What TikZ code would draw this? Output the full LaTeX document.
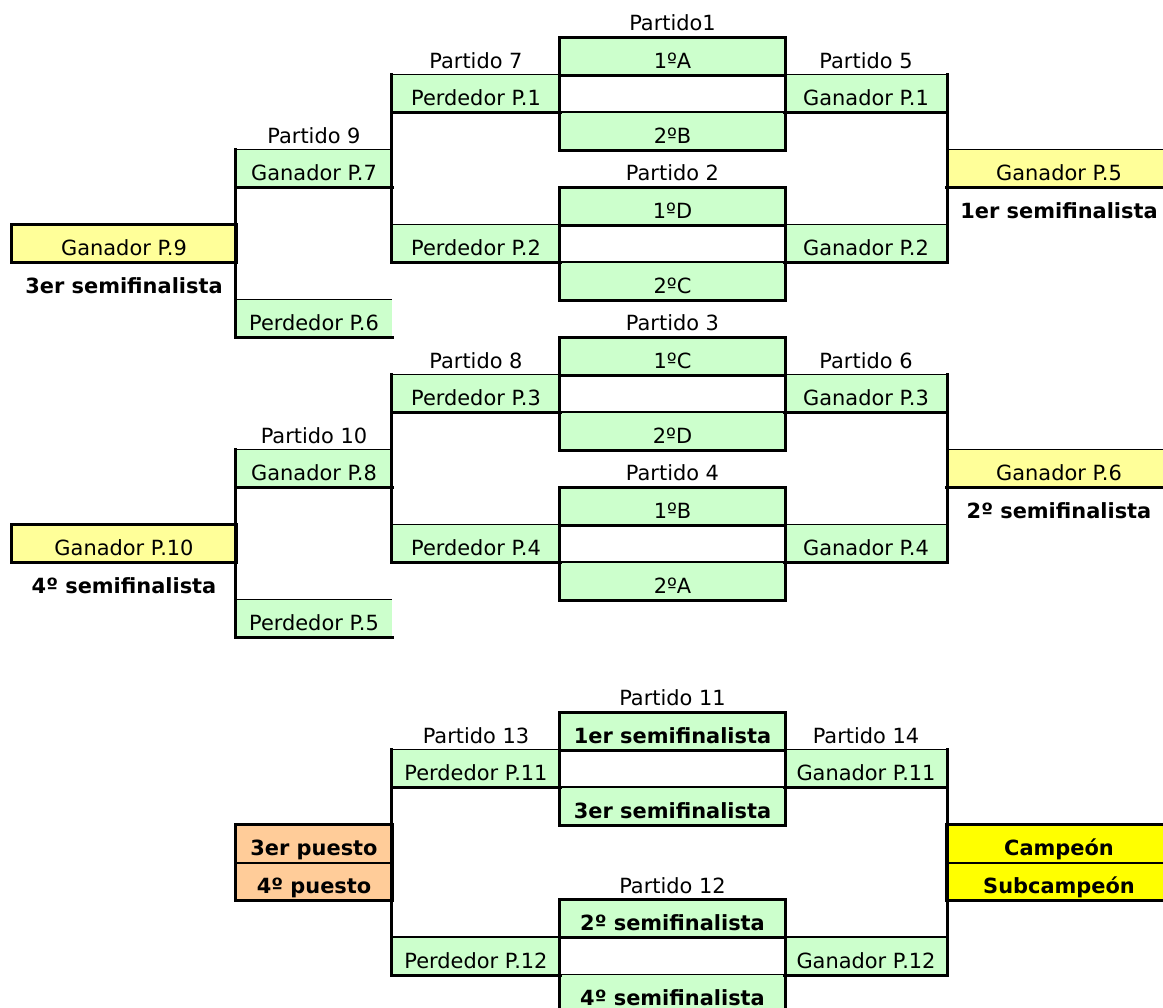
\documentclass[tikz,border=0pt]{standalone}
\usepackage{fontspec}
\setmainfont{DejaVu Sans}
\usetikzlibrary{positioning}
\definecolor{verde}{HTML}{CCFFCC}
\definecolor{amarillo}{HTML}{FFFF99}
\definecolor{oro}{HTML}{FFFF00}
\definecolor{naranja}{HTML}{FFCC99}

\begin{document}
\begin{tikzpicture}[
    every node/.style={font=\fontsize{11.9}{14}\selectfont},
    cell/.style={inner sep=0pt,minimum height=0.75cm,
                 text height=0.61cm,text depth=0.14cm},
    col A/.style={cell,minimum width=4.48cm},
    col B/.style={cell,minimum width=3.12cm},
    col C/.style={cell,minimum width=3.36cm},
    col D/.style={cell,minimum width=4.5cm},
    col E/.style={cell,minimum width=3.24cm},
    col F/.style={cell,minimum width=4.48cm},
    verde cell/.style={fill=verde},
    amarillo cell/.style={fill=amarillo},
    bold text/.style={font=\fontsize{11.9}{14}\selectfont\bfseries},
    thin line/.style={line width=0.85pt},
    thick line/.style={line width=1.7pt,line cap=rect}
   ]
   \useasboundingbox (0,0) rectangle (23.26,-20.14);

   % cuadro principal
   \node[col D] (lp1) at (13.45,-0.375) {Partido1};
   \node[col C] (lp7) at (9.52,-1.125) {Partido 7};
   \node[col E] (lp5) at (17.32,-1.125) {Partido 5};
   \node[col B] (lp9) at (6.28,-2.625) {Partido 9};
   \node[col D] (lp2) at (13.45,-3.375) {Partido 2};
   \node[col D] (lp3) at (13.45,-6.375) {Partido 3};
   \node[col C] (lp8) at (9.52,-7.125) {Partido 8};
   \node[col E] (lp6) at (17.32,-7.125) {Partido 6};
   \node[col B] (lp10) at (6.28,-8.625) {Partido 10};
   \node[col D] (lp4) at (13.45,-9.375) {Partido 4};

   \node[col D,verde cell] (p1a) at (13.45,-1.125) {1ºA};
   \node[col D,verde cell] (p1b) at (13.45,-2.625) {2ºB};
   \node[col D,verde cell] (p2a) at (13.45,-4.125) {1ºD};
   \node[col D,verde cell] (p2b) at (13.45,-5.625) {2ºC};
   \node[col D,verde cell] (p3a) at (13.45,-7.125) {1ºC};
   \node[col D,verde cell] (p3b) at (13.45,-8.625) {2ºD};
   \node[col D,verde cell] (p4a) at (13.45,-10.125) {1ºB};
   \node[col D,verde cell] (p4b) at (13.45,-11.625) {2ºA};

   \node[col C,verde cell] (per1) at (9.52,-1.875) {Perdedor P.1};
   \node[col C,verde cell] (per2) at (9.52,-4.875) {Perdedor P.2};
   \node[col C,verde cell] (per3) at (9.52,-7.875) {Perdedor P.3};
   \node[col C,verde cell] (per4) at (9.52,-10.875) {Perdedor P.4};
   \node[col E,verde cell] (gan1) at (17.32,-1.875) {Ganador P.1};
   \node[col E,verde cell] (gan2) at (17.32,-4.875) {Ganador P.2};
   \node[col E,verde cell] (gan3) at (17.32,-7.875) {Ganador P.3};
   \node[col E,verde cell] (gan4) at (17.32,-10.875) {Ganador P.4};

   \node[col B,verde cell] (gan7) at (6.28,-3.375) {Ganador P.7};
   \node[col B,verde cell] (per6) at (6.28,-6.375) {Perdedor P.6};
   \node[col B,verde cell] (gan8) at (6.28,-9.375) {Ganador P.8};
   \node[col B,verde cell] (per5) at (6.28,-12.375) {Perdedor P.5};

   \node[col A,amarillo cell] (gan9) at (2.48,-4.875) {Ganador P.9};
   \node[col A,bold text] (semi3) at (2.48,-5.625) {3er semifinalista};
   \node[col A,amarillo cell] (gan10) at (2.48,-10.875) {Ganador P.10};
   \node[col A,bold text] (semi4) at (2.48,-11.625) {4º semifinalista};
   \node[col F,amarillo cell] (gan5) at (21.18,-3.375) {Ganador P.5};
   \node[col F,bold text] (semi1) at (21.18,-4.125) {1er semifinalista};
   \node[col F,amarillo cell] (gan6) at (21.18,-9.375) {Ganador P.6};
   \node[col F,bold text] (semi2) at (21.18,-10.125) {2º semifinalista};

   % fase final
   \node[col D] (lp11) at (13.45,-13.875) {Partido 11};
   \node[col C] (lp13) at (9.52,-14.625) {Partido 13};
   \node[col E] (lp14) at (17.32,-14.625) {Partido 14};
   \node[col D] (lp12) at (13.45,-17.625) {Partido 12};

   \node[col D,verde cell,bold text] (p11a) at (13.45,-14.625) {1er semifinalista};
   \node[col D,verde cell,bold text] (p11b) at (13.45,-16.125) {3er semifinalista};
   \node[col D,verde cell,bold text] (p12a) at (13.45,-18.375) {2º semifinalista};
   \node[col D,verde cell,bold text] (p12b) at (13.45,-19.875) {4º semifinalista};
   \node[col C,verde cell] (per11) at (9.52,-15.375) {Perdedor P.11};
   \node[col C,verde cell] (per12) at (9.52,-19.125) {Perdedor P.12};
   \node[col E,verde cell] (gan11) at (17.32,-15.375) {Ganador P.11};
   \node[col E,verde cell] (gan12) at (17.32,-19.125) {Ganador P.12};

   \node[col B,fill=naranja,bold text] (tercero) at (6.28,-16.875) {3er puesto};
   \node[col B,fill=naranja,bold text] (cuarto) at (6.28,-17.625) {4º puesto};
   \node[col F,fill=oro,bold text] (campeon) at (21.18,-16.875) {Campeón};
   \node[col F,fill=oro,bold text] (subcampeon) at (21.18,-17.625) {Subcampeón};

   % bordes finos
   \path[thin line]%
    (per1.north west) edge (per1.north east)
    (per2.north west) edge (per2.north east)
    (per3.north west) edge (per3.north east)
    (per4.north west) edge (per4.north east)
    (gan1.north west) edge (gan1.north east)
    (gan2.north west) edge (gan2.north east)
    (gan3.north west) edge (gan3.north east)
    (gan4.north west) edge (gan4.north east)
    (gan7.north west) edge (gan7.north east)
    (per6.north west) edge (per6.north east)
    (gan8.north west) edge (gan8.north east)
    (per5.north west) edge (per5.north east)
    (gan5.north west) edge (gan5.north east)
    (gan6.north west) edge (gan6.north east)
    (per11.north west) edge (per11.north east)
    (per12.north west) edge (per12.north east)
    (gan11.north west) edge (gan11.north east)
    (gan12.north west) edge (gan12.north east)
    (p1b.north west) edge (p1b.north east)
    (p2b.north west) edge (p2b.north east)
    (p3b.north west) edge (p3b.north east)
    (p4b.north west) edge (p4b.north east)
    (p11b.north west) edge (p11b.north east)
    (p12b.north west) edge (p12b.north east)
    (tercero.south west) edge (tercero.south east)
    (campeon.south west) edge (campeon.south east);

   % bordes gruesos
   \path[thick line]%
    (per1.south west) edge (per1.south east)
    (per2.south west) edge (per2.south east)
    (per3.south west) edge (per3.south east)
    (per4.south west) edge (per4.south east)
    (gan1.south west) edge (gan1.south east)
    (gan2.south west) edge (gan2.south east)
    (gan3.south west) edge (gan3.south east)
    (gan4.south west) edge (gan4.south east)
    (gan7.south west) edge (gan7.south east)
    (per6.south west) edge (per6.south east)
    (gan8.south west) edge (gan8.south east)
    (per5.south west) edge (per5.south east)
    (gan5.south west) edge (gan5.south east)
    (gan6.south west) edge (gan6.south east)
    (per11.south west) edge (per11.south east)
    (per12.south west) edge (per12.south east)
    (gan11.south west) edge (gan11.south east)
    (gan12.south west) edge (gan12.south east)
    (p1a.south west) edge (p1a.south east)
    (p2a.south west) edge (p2a.south east)
    (p3a.south west) edge (p3a.south east)
    (p4a.south west) edge (p4a.south east)
    (p11a.south west) edge (p11a.south east)
    (p12a.south west) edge (p12a.south east)
    (per1.north west) edge (per2.south west)
    (per3.north west) edge (per4.south west)
    (gan7.north west) edge (per6.south west)
    (gan8.north west) edge (per5.south west)
    (gan1.north east) edge (gan2.south east)
    (gan3.north east) edge (gan4.south east)
    (per11.north west) edge (per12.south west)
    (gan11.north east) edge (gan12.south east);

   \draw[thick line] (p1a.north west) rectangle (p1b.south east);
   \draw[thick line] (p2a.north west) rectangle (p2b.south east);
   \draw[thick line] (p3a.north west) rectangle (p3b.south east);
   \draw[thick line] (p4a.north west) rectangle (p4b.south east);
   \draw[thick line] (p11a.north west) rectangle (p11b.south east);
   \draw[thick line] (p12a.north west) rectangle (p12b.south east);
   \draw[thick line] (gan9.north west) rectangle (gan9.south east);
   \draw[thick line] (gan10.north west) rectangle (gan10.south east);
   \draw[thick line] (tercero.north west) rectangle (cuarto.south east);
   \draw[thick line] (campeon.north east) -- (campeon.north west)
                     -- (subcampeon.south west) -- (subcampeon.south east);
  \end{tikzpicture}
\end{document}
